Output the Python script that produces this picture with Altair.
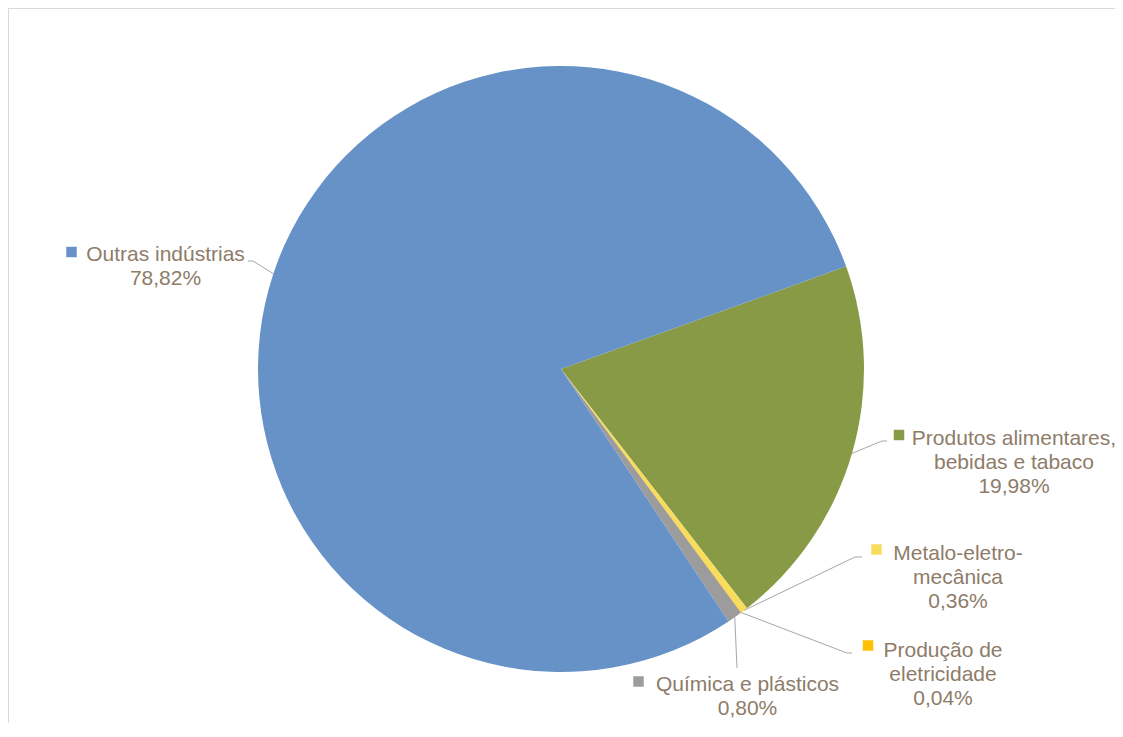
import math
import altair as alt
import pandas as pd

# ---- data ----
categories = [
    "Produtos alimentares, bebidas e tabaco",
    "Metalo-eletro-mecânica",
    "Produção de eletricidade",
    "Química e plásticos",
    "Outras indústrias",
]
values = [19.98, 0.36, 0.04, 0.80, 78.82]
label_lines = [
    ["Produtos alimentares,", "bebidas e tabaco"],
    ["Metalo-eletro-", "mecânica"],
    ["Produção de", "eletricidade"],
    ["Química e plásticos"],
    ["Outras indústrias"],
]
colors = ["#889A46", "#F8DD5C", "#FFC000", "#9C9C9C", "#6792C8"]

# ---- layout (pixel positions inside the chart) ----
label_x = [1006, 950, 935, 739.5, 157.5]
label_y = [437, 552, 649, 683, 253]
marker_x = [891, 868.5, 860, 630.5, 63.5]
marker_y = [427, 541.5, 637.5, 673.5, 244]
elbow_x = [874, 847, 839, 729, 245]
elbow_y = [433, 549, 645, 660, 253]
end_x = [879, 854, 844, 729, 240]
end_y = [433, 549, 645, 660, 253]

CX, CY, R = 553, 361, 303
START = math.radians(70.2)
TEXT_COLOR = "#8E7C69"
FONT = "Liberation Sans"

pcts = [f"{v:.2f}".replace(".", ",") + "%" for v in values]
df = pd.DataFrame({
    "category": categories,
    "value": values,
    "ord": list(range(len(categories))),
    "lines": [l + [p] for l, p in zip(label_lines, pcts)],
    "lx": label_x, "ly": label_y,
    "mx": marker_x, "my": marker_y,
    "bx": elbow_x, "by": elbow_y,
    "nx": end_x, "ny": end_y,
})

color_scale = alt.Scale(domain=categories, range=colors)

base = alt.Chart(df)

pie = base.mark_arc(outerRadius=R).encode(
    theta=alt.Theta("value:Q", stack=True,
                    scale=alt.Scale(range=[START, START + 2 * math.pi])),
    color=alt.Color("category:N", scale=color_scale, legend=None),
    order=alt.Order("ord:Q"),
    x=alt.value(CX),
    y=alt.value(CY),
)

geo = base.transform_joinaggregate(
    total="sum(value)"
).transform_window(
    cum="sum(value)", sort=[alt.SortField("ord")], frame=[None, 0]
).transform_calculate(
    mid=f"{START} + 2*PI*(datum.cum - datum.value/2)/datum.total"
).transform_calculate(
    ex=f"{CX} + {R}*sin(datum.mid)",
    ey=f"{CY} - {R}*cos(datum.mid)",
)

leader1 = geo.mark_rule(color="#A6A6A6", strokeWidth=1).encode(
    x=alt.X("ex:Q", scale=None), y=alt.Y("ey:Q", scale=None),
    x2="bx:Q", y2="by:Q",
)
leader2 = base.mark_rule(color="#A6A6A6", strokeWidth=1).encode(
    x=alt.X("bx:Q", scale=None), y=alt.Y("by:Q", scale=None),
    x2="nx:Q", y2="ny:Q",
)

markers = base.mark_point(shape="square", filled=True, size=110, opacity=1).encode(
    x=alt.X("mx:Q", scale=None), y=alt.Y("my:Q", scale=None),
    color=alt.Color("category:N", scale=color_scale, legend=None),
)

labels = base.mark_text(
    align="center", baseline="alphabetic", fontSize=21, font=FONT,
    lineHeight=24, color=TEXT_COLOR,
).encode(
    x=alt.X("lx:Q", scale=None), y=alt.Y("ly:Q", scale=None),
    text="lines",
)

border_top = alt.Chart(df).mark_rule(color="#D9D9D9", strokeWidth=1).encode(
    x=alt.value(0), x2=alt.value(1107), y=alt.value(0.5)
)
border_left = alt.Chart(df).mark_rule(color="#D9D9D9", strokeWidth=1).encode(
    x=alt.value(0.5), y=alt.value(0), y2=alt.value(715)
)

chart = alt.layer(
    border_top, border_left, pie, leader1, leader2, markers, labels
).properties(
    width=1107, height=715, padding=0,
    autosize=alt.AutoSizeParams(type="none"),
    background="white",
).configure_view(stroke=None)

chart.save("out.html", embed_options={"renderer": "svg", "actions": False})
